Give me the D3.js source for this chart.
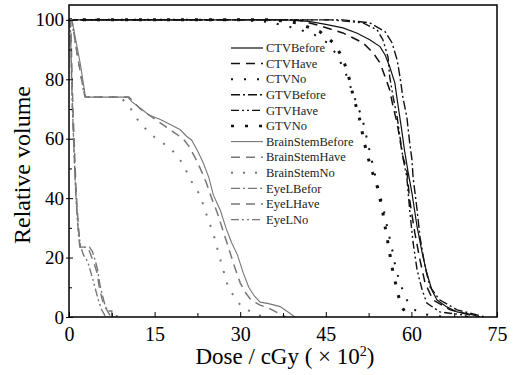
<!DOCTYPE html>
<html>
<head>
<meta charset="utf-8">
<script src="https://cdn.jsdelivr.net/npm/d3@7"></script>
<style>
  body { margin: 0; background: #fff; }
  text { font-family: "Liberation Serif", "DejaVu Serif", serif; }
</style>
</head>
<body>
<div id="chart"></div>
<script>
// dose values are in units of 100 cGy, volumes in %
const ctvBefore = [[0,100],[38,100],[42,99.5],[45,98.5],[48,97.3],[50.5,95.5],[52.7,93.3],[54.5,91],[55.4,88.2],[56.2,84.2],[57.1,78.8],[57.6,72],[58.3,63],[58.8,56],[59.4,49],[60.1,41.7],[61,30.3],[61.9,21.5],[62.7,14.8],[63.6,9],[64.5,5.7],[66.2,3.4],[68,1.7],[70.8,0.7],[72,0]];
const ctvHave = [[0,100],[40,100],[44,98],[48,95.6],[51.5,92.3],[53.3,88.9],[54.5,85.5],[55.4,80.8],[56.2,76.4],[56.8,70.7],[57.5,65.3],[58,59.6],[58.5,53.9],[59.2,49.5],[59.7,39.4],[60.6,28.3],[61.5,19.2],[62.4,11.4],[63.8,5.7],[66.8,2.4],[70.3,0.7],[71,0]];
const ctvNo = [[0,100],[30,100],[35,99.3],[40,97],[43,95],[45.5,92],[47,88],[48.5,82],[49.6,76],[50.6,71],[51.5,66],[52.2,60],[52.9,54],[53.6,48],[54.4,42],[55.2,35.5],[55.9,29],[56.6,23],[57.2,17],[57.9,12],[58.7,8],[59.5,4.5],[60.5,2.5],[62,1],[64.5,0.3],[66,0]];
const gtvBefore = [[0,100],[48,100],[52.7,99],[55.4,96],[56.6,92.3],[57.5,86.5],[58,80.8],[58.5,74],[59.2,67.3],[59.7,58.6],[60.1,52.9],[60.3,47],[61,36],[61.5,27],[62.4,16.8],[63.3,10],[65,5.7],[68,2.4],[71.5,0.7],[73,0]];
const gtvHave = [[0,100],[46,100],[51.5,99],[54,96.6],[55,93.3],[55.9,87.5],[56.2,80.8],[56.8,74],[57.5,67.3],[58,60.6],[58.5,53.9],[59.2,47],[59.7,36],[60.3,25],[61,15.8],[61.9,9],[62.7,4.7],[65,1.7],[69,0.7],[70,0]];
const gtvNo = [[0,100],[36,100],[40,99],[44,96],[46.5,92],[48,87],[49,81],[49.6,76],[50.3,71],[51,66],[51.7,59],[52.5,53],[53.2,48.5],[54,44],[54.5,39.7],[55,35],[55.4,30.3],[55.8,26],[56.2,21.5],[56.6,16.8],[57.1,12.5],[57.6,8],[58.3,3.4],[59,1.5],[60,0]];
const brainStemBefore = [[0,100],[0.5,100],[1,95],[2,85],[2.8,75],[3,74],[10.3,74],[11,72.5],[12,71],[13,69.5],[14,68],[16,66.5],[18,64.5],[19.5,63],[20.5,61],[21.5,59.5],[22.5,56],[23.5,52],[24.5,47],[25.3,41],[26.5,36],[27.5,30],[28.5,25],[29.5,21],[30.5,15],[31.5,10],[32.5,7],[33.5,5],[35,4.5],[37,3.5],[38.5,1.5],[39.6,0]];
const brainStemHave = [[0,100],[0.5,100],[1.3,90],[2.2,80],[2.8,74],[10.5,74],[11.5,72],[12.5,70],[14,68],[15.5,66],[17,64],[18.5,62],[20,60],[21,57.5],[22,54],[23,50],[24,45.5],[25,40],[26,35],[27,29],[28,23],[29,17],[30,11.5],[31,8],[32,5.5],[33.5,4],[35,3],[36.5,1.5],[38,0]];
const brainStemNo = [[0,100],[0.5,100],[1.3,90],[2.2,80],[2.8,74],[9,74],[10.5,71],[12,66.5],[13.3,63.6],[15,60.5],[16.5,58.5],[18.3,55.6],[19.8,52],[20.9,47.8],[21.8,44.4],[23,41],[23.8,36],[25.3,28],[26,23],[27,16],[27.9,10],[29.4,5.5],[30.5,3],[32.3,1.5],[34,0]];
const eyeLBefor = [[0,100],[0.2,100],[0.4,85],[0.6,70],[0.9,55],[1.1,45],[1.3,38],[1.5,32],[1.7,27],[1.9,23.5],[3.6,23.5],[4.1,22],[4.6,19],[5,16],[5.4,11],[5.9,7],[6.3,4],[6.8,2],[7.5,2],[7.5,0.4],[8.4,0.4],[8.4,0]];
const eyeLHave = [[0,100],[0.3,100],[0.5,85],[0.7,70],[1,55],[1.2,45],[1.4,38],[1.6,32],[1.8,27],[2,23.5],[3.3,23.5],[3.8,21],[4.4,18],[4.9,15],[5.3,10],[5.8,6],[6.3,3.4],[6.9,1.5],[7.2,0.5],[7.6,0]];
const eyeLNo = [[0,100],[0.2,100],[0.4,85],[0.7,65],[1,50],[1.3,38],[1.6,30],[2,24],[2.5,21],[3.3,18.5],[4.2,12.5],[5.1,6],[5.7,2.5],[6.3,0.5],[6.6,0]];

const seriesNames = ["CTVBefore","CTVHave","CTVNo","GTVBefore","GTVHave","GTVNo",
  "BrainStemBefore","BrainStemHave","BrainStemNo","EyeLBefor","EyeLHave","EyeLNo"];
const seriesData = [ctvBefore, ctvHave, ctvNo, gtvBefore, gtvHave, gtvNo,
  brainStemBefore, brainStemHave, brainStemNo, eyeLBefor, eyeLHave, eyeLNo];

const xTicks = [0, 15, 30, 45, 60, 75];
const yTicks = [0, 20, 40, 60, 80, 100];

// line styles per series
const black = "#111", gray = "#777";
const styles = [
  { color: black, dash: null, w: 1.2 },
  { color: black, dash: "9,6", w: 1.5 },
  { color: black, dash: "2,11", w: 2 },
  { color: black, dash: "9,3,2,3", w: 1.4 },
  { color: black, dash: "8,3,2,3,2,3", w: 1.4 },
  { color: black, dash: "3,11", w: 3 },
  { color: gray, dash: null, w: 1.1 },
  { color: gray, dash: "9,6", w: 1.5 },
  { color: gray, dash: "2,10", w: 2 },
  { color: gray, dash: "9,3,2,3", w: 1.4 },
  { color: gray, dash: "9,6", w: 1.4 },
  { color: gray, dash: "8,3,2,3,2,3", w: 1.4 }
];

const width = 517, height = 375;
const margin = { top: 5, right: 20, bottom: 58, left: 69 };
const innerW = width - margin.left - margin.right;
const innerH = height - margin.top - margin.bottom;

const svg = d3.select("#chart").append("svg")
  .attr("width", width)
  .attr("height", height);

const g = svg.append("g")
  .attr("transform", `translate(${margin.left},${margin.top})`);

const x = d3.scaleLinear().domain([0, 75]).range([0, innerW]);
const y = d3.scaleLinear().domain([0, 105]).range([innerH, 0]);

g.append("defs").append("clipPath").attr("id", "clip")
  .append("rect").attr("width", innerW).attr("height", innerH);

// curves
const line = d3.line()
  .x(d => x(d[0]))
  .y(d => y(d[1]));

const curves = g.append("g").attr("clip-path", "url(#clip)");
seriesData.forEach((data, i) => {
  const s = styles[i];
  curves.append("path")
    .datum(data)
    .attr("d", line)
    .style("fill", "none")
    .style("stroke", s.color)
    .style("stroke-width", s.w)
    .style("stroke-dasharray", s.dash);
});

// frame
g.append("rect")
  .attr("width", innerW)
  .attr("height", innerH)
  .style("fill", "none")
  .style("stroke", "#000")
  .style("stroke-width", 1.5);

// x axis ticks (inside) + labels
const xAxis = g.append("g").attr("transform", `translate(0,${innerH})`)
  .call(d3.axisBottom(x).tickValues(xTicks).tickSize(-5).tickPadding(10));
xAxis.select(".domain").remove();
xAxis.selectAll("text").style("font-size", "20px").attr("fill", "#000");
g.append("g").attr("transform", `translate(0,${innerH})`)
  .call(d3.axisBottom(x).tickValues(d3.range(7.5, 75, 15)).tickSize(-4).tickFormat(""))
  .select(".domain").remove();

// y axis ticks + labels
const yAxis = g.append("g")
  .call(d3.axisLeft(y).tickValues(yTicks).tickSizeInner(3).tickSizeOuter(0).tickPadding(4));
yAxis.select(".domain").remove();
yAxis.selectAll(".tick line").attr("x2", 4).attr("x1", -3);
yAxis.selectAll("text").style("font-size", "19px").attr("fill", "#000").attr("x", -5);
g.append("g")
  .call(d3.axisRight(y).tickValues(d3.range(10, 100, 20)).tickSize(3).tickFormat(""))
  .select(".domain").remove();

// axis titles
svg.append("text")
  .attr("transform", `translate(30,${margin.top + innerH / 2 + 4}) rotate(-90)`)
  .attr("text-anchor", "middle")
  .style("font-size", "24px")
  .text("Relative volume");

const xt = svg.append("text")
  .attr("x", margin.left + innerW / 2 + 2)
  .attr("y", 364)
  .attr("text-anchor", "middle")
  .style("font-size", "23px");
xt.append("tspan").text("Dose / cGy ( × 10");
xt.append("tspan").attr("dy", -8).style("font-size", "14px").text("2");
xt.append("tspan").attr("dy", 8).text(")");

// legend
const legend = g.append("g").attr("transform", `translate(${231 - margin.left},${48 - margin.top})`);
seriesNames.forEach((name, i) => {
  const s = styles[i];
  const row = legend.append("g").attr("transform", `translate(0,${i * 15.6})`);
  row.append("line")
    .attr("x1", 0).attr("x2", 32)
    .style("stroke", s.color)
    .style("stroke-width", Math.min(s.w, 2.4))
    .style("stroke-dasharray", s.dash);
  row.append("text")
    .attr("x", 35)
    .attr("dy", "0.33em")
    .style("font-size", "12.5px")
    .attr("fill", "#222")
    .text(name);
});
</script>
</body>
</html>
